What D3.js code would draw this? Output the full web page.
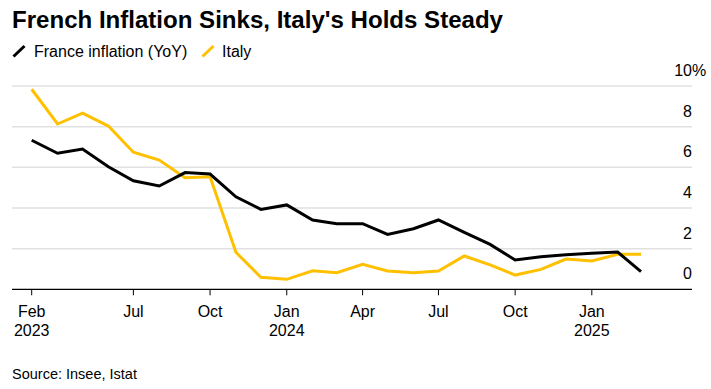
<!DOCTYPE html>
<html><head><meta charset="utf-8">
<script src="https://cdn.jsdelivr.net/npm/d3@7"></script>
<style>
body{margin:0;background:#fff;}
svg{display:block;font-family:"Liberation Sans",Arial,Helvetica,sans-serif;}
</style></head>
<body><svg id="c" width="711" height="389"></svg>
<script>
// Data months (value for each month, plotted at end of month)
const months = ["2023-02","2023-03","2023-04","2023-05","2023-06","2023-07","2023-08","2023-09","2023-10","2023-11","2023-12",
  "2024-01","2024-02","2024-03","2024-04","2024-05","2024-06","2024-07","2024-08","2024-09","2024-10","2024-11","2024-12",
  "2025-01","2025-02"];
const france = [7.33,6.69,6.90,6.03,5.34,5.08,5.74,5.67,4.55,3.93,4.15,3.41,3.23,3.23,2.70,2.98,3.41,2.80,2.21,1.44,1.60,1.70,1.77,1.83,0.87];
const italy  = [9.84,8.13,8.66,8.03,6.74,6.36,5.49,5.54,1.82,0.59,0.49,0.91,0.82,1.23,0.90,0.82,0.90,1.64,1.20,0.70,0.98,1.49,1.39,1.72,1.72];
const yTicks = [0,2,4,6,8,10];
const xTickDates = ["2023-03-01","2023-07-01","2023-10-01","2024-01-01","2024-04-01","2024-07-01","2024-10-01","2025-01-01"];
const xTickLabels = [["Feb","2023"],["Jul"],["Oct"],["Jan","2024"],["Apr"],["Jul"],["Oct"],["Jan","2025"]];
const seriesNames = ["France inflation (YoY)","Italy"];
const seriesColors = ["#000000","#ffc000"];

const svg = d3.select("#c");
const parseM = d3.timeParse("%Y-%m");
const endOfMonth = m => d3.timeMonth.offset(parseM(m), 1);
const dates = months.map(endOfMonth);

const x = d3.scaleTime().domain(d3.extent(dates)).range([31.7, 641]);
const y = d3.scaleLinear().domain([0,10]).range([289.3, 86]);
const left = 12, right = 692;

// Title
svg.append("text").attr("x",12).attr("y",28)
  .attr("font-size",23).attr("font-weight","bold").attr("fill","#000")
  .attr("textLength",491).attr("lengthAdjust","spacingAndGlyphs")
  .text("French Inflation Sinks, Italy's Holds Steady");

// Legend
const legX = [12, 201];
seriesNames.forEach((n,i)=>{
  const g = svg.append("g").attr("transform",`translate(${legX[i]},0)`);
  g.append("line").attr("x1",1.5).attr("y1",56.5).attr("x2",12.5).attr("y2",46)
    .attr("stroke",seriesColors[i]).attr("stroke-width",3);
  g.append("text").attr("x",i===0?22:21).attr("y",57).attr("font-size",16).attr("fill","#000").text(n);
});

// Gridlines
svg.append("g").selectAll("line").data(yTicks.filter(d=>d>0)).join("line")
  .attr("x1",left).attr("x2",right).attr("y1",d=>y(d)).attr("y2",d=>y(d))
  .attr("stroke","#e1e1e1").attr("stroke-width",1.5);

// Y labels
const yl = svg.append("g");
yl.selectAll("text").data(yTicks).join("text")
  .attr("x",right).attr("y",d=>y(d)-10).attr("text-anchor","end")
  .attr("font-size",16).attr("fill","#000").text(d=>d);
yl.append("text").attr("x",right).attr("y",y(10)-10).attr("font-size",16).attr("fill","#000").text("%");

// Lines
const line = d3.line().x((d,i)=>x(dates[i])).y(d=>y(d)).curve(d3.curveLinear);
[italy, france].forEach((s,k)=>{
  svg.append("path").datum(s).attr("d",line).attr("fill","none")
    .attr("stroke", k===0?seriesColors[1]:seriesColors[0]).attr("stroke-width",3)
    .attr("stroke-linejoin","miter").attr("stroke-linecap","butt");
});

// X axis baseline
svg.append("line").attr("x1",left).attr("x2",right).attr("y1",y(0)).attr("y2",y(0))
  .attr("stroke","#000").attr("stroke-width",1.2);

// X ticks
const parseD = d3.timeParse("%Y-%m-%d");
const xt = svg.append("g");
xTickDates.forEach((ds,i)=>{
  const xx = x(parseD(ds));
  xt.append("line").attr("x1",xx).attr("x2",xx).attr("y1",y(0)).attr("y2",y(0)+6)
    .attr("stroke","#000").attr("stroke-width",1);
  xTickLabels[i].forEach((t,j)=>{
    xt.append("text").attr("x",xx).attr("y",317+j*19).attr("text-anchor","middle")
      .attr("font-size",16).attr("fill","#000").text(t);
  });
});

// Source
svg.append("text").attr("x",12).attr("y",379).attr("font-size",14.5).attr("fill","#000")
  .text("Source: Insee, Istat");
</script></body></html>
